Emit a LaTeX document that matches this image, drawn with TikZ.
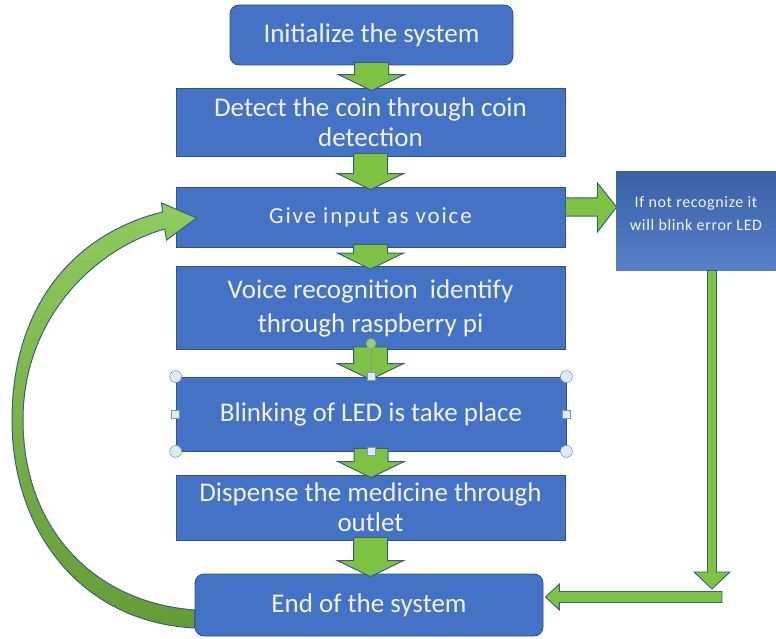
\documentclass[tikz,border=0pt]{standalone}
\usepackage{fontspec}
\setmainfont{Carlito}
\usetikzlibrary{calc}

\definecolor{boxblue}{HTML}{4472C4}
\definecolor{boxline}{HTML}{2F528F}
\definecolor{arrowgreen}{HTML}{7DC242}
\definecolor{arrowline}{HTML}{3B6079}
\definecolor{handlefill}{HTML}{DDEBF5}
\definecolor{handleline}{HTML}{8497A6}

\tikzset{
    stage/.style={rectangle, draw=boxline, fill=boxblue, line width=0.8pt, text=white!95!black, align=center, inner sep=0pt},
    flow/.style={fill=arrowgreen, draw=arrowline, line width=1pt, line join=miter},
    grip/.style={draw=handleline, fill=handlefill, line width=0.6pt}
}

% block arrow from the bottom of one box to the top of the next
\newcommand{\downflow}[2]{%
    \path[flow] ($(#1.south)+(-17,-3)$) -- ($(#1.south)+(17,-3)$)
        -- ($(#1.south |- #2.north)+(17,-13)$) -- ($(#1.south |- #2.north)+(33,-13)$)
        -- ($(#1.south |- #2.north)+(0,3)$)
        -- ($(#1.south |- #2.north)+(-33,-13)$) -- ($(#1.south |- #2.north)+(-17,-13)$) -- cycle;}

\begin{document}
\begin{tikzpicture}[x=1pt, y=-1pt]
        \useasboundingbox (0,0) rectangle (776,639);
        \begin{scope}[every node/.style={stage}]
            \node (init) [minimum width=283, minimum height=60, rounded corners=9pt, font=\fontsize{27}{30}\selectfont] at (371.5, 35) {Initialize the system};
            \node (coin) [minimum width=389, minimum height=68, font=\fontsize{27}{30}\selectfont] at (370.5, 122) {Detect the coin through coin\\ detection};
            \node (voice) [minimum width=389, minimum height=60, font=\fontsize{23}{26}\selectfont\addfontfeatures{LetterSpace=8}] at (370.5, 217) {Give input as voice};
            \node (recog) [minimum width=389, minimum height=83, font=\fontsize{27}{34}\selectfont] at (370.5, 308) {Voice recognition\ \ identify\\ through raspberry pi};
            \node (blink) [minimum width=390, minimum height=74, font=\fontsize{27}{30}\selectfont] at (371, 414) {Blinking of LED is take place};
            \node (dispense) [minimum width=389, minimum height=65, font=\fontsize{27}{30}\selectfont] at (370.5, 507.5) {Dispense the medicine through\\ outlet};
            \node (finish) [minimum width=348, minimum height=62, rounded corners=9pt, font=\fontsize{27}{30}\selectfont] at (369, 605) {End of the system};
            \node (error) [minimum width=160, minimum height=98, draw=none, top color=boxblue!85!black, bottom color=boxblue!90!white, font=\fontsize{16}{23}\selectfont\addfontfeatures{LetterSpace=4}] at (696, 221) {\raisebox{31pt}{\begin{tabular}{@{}c@{}}If not recognize it\\ will blink error LED\end{tabular}}};
        \end{scope}
        \coordinate (drop) at (712, 589);
        \coordinate (turn) at (722, 597);
        % main flow
        \downflow{init}{coin}
        \downflow{coin}{voice}
        \downflow{voice}{recog}
        \downflow{recog}{blink}
        \downflow{blink}{dispense}
        \downflow{dispense}{finish}
        % not recognised branch
        \path[flow] ($(voice.east)+(0,-19)$) -- ($(voice.east)+(32,-19)$) -- ($(voice.east)+(32,-34)$)
            -- ($(error.west |- voice.east)+(1,-10)$)
            -- ($(voice.east)+(32,15)$) -- ($(voice.east)+(32,-1)$) -- ($(voice.east)+(0,-1)$) -- cycle;
        \path[flow, line width=0.9pt] ($(error.south -| drop)+(-4.5,0)$) -- ($(error.south -| drop)+(4.5,0)$) -- ($(drop)+(4.5,-17)$)
            -- ($(drop)+(18,-17)$) -- (drop) -- ($(drop)+(-18,-17)$) -- ($(drop)+(-4.5,-17)$) -- cycle;
        \path[flow, line width=0.9pt] ($(turn)+(0,-5.5)$) -- ($(turn)+(0,5.5)$) -- ($(finish.east |- turn)+(16,5.5)$)
            -- ($(finish.east |- turn)+(16,13)$) -- ($(finish.east |- turn)+(2,0)$) -- ($(finish.east |- turn)+(16,-13)$)
            -- ($(finish.east |- turn)+(16,-5.5)$) -- cycle;
        % loop back to voice input
        \path[draw=arrowline, line width=1pt, top color=arrowgreen!85!white, bottom color=arrowgreen!80!black]
            ($(finish.west)+(0,23)$) .. controls (80,622) and (12,530) .. (12,420)
            .. controls (12,300) and (80,232) .. ($(voice.west)+(-13,-5)$) -- ($(voice.west)+(-14,-14)$)
            -- ($(voice.west)+(21,1)$) -- ($(voice.west)+(-9,23)$) -- ($(voice.west)+(-11,12)$)
            .. controls (92,250) and (23,320) .. (23,420)
            .. controls (23,525) and (90,602) .. ($(finish.west)+(0,5)$) -- cycle;
        % selection handles
        \draw[handleline, line width=0.6pt] (blink.north) -- ++(0,-33);
        \draw[grip, fill=arrowgreen!80!white] ($(blink.north)+(0,-33)$) circle (5pt);
        \foreach \corner in {north west, north east, south west, south east}
            \draw[grip] (blink.\corner) circle (6pt);
        \foreach \side in {north, south, east, west}
            \draw[grip] ($(blink.\side)+(-4,-4)$) rectangle ++(8,8);
    \end{tikzpicture}
\end{document}
